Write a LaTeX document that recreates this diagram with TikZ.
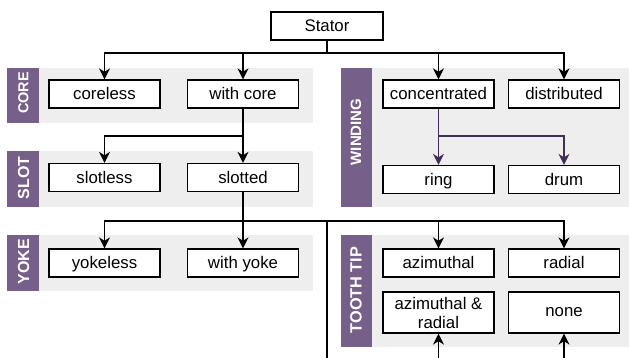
\documentclass[tikz,border=0pt]{standalone}
\usepackage{fontspec}
\setmainfont{Liberation Sans}
\usetikzlibrary{arrows.meta}
\definecolor{bandgray}{HTML}{EEEEEE}
\definecolor{stripviolet}{HTML}{76608A}
\definecolor{arrowviolet}{HTML}{432D57}
\begin{document}
\begin{tikzpicture}[x=1pt,y=-1pt,
  box/.style={draw=black,line width=1.3pt,fill=white,minimum width=111pt,minimum height=28pt,
    inner sep=0pt,align=center,text height=15pt,text depth=3.4pt,
    font=\fontsize{16.8}{19}\selectfont},
  tallbox/.style={box,minimum height=41pt,text height=,text depth=},
  band/.style={fill=bandgray,draw=none},
  strip/.style={fill=stripviolet,draw=none},
  striplabel/.style={text=white,rotate=90,inner sep=0pt},
  lsize/.style={font=\bfseries\fontsize{#1}{#1}\selectfont},
  link/.style={draw=black,line width=1.3pt},
  arr/.style={link,-{Stealth[length=11pt,width=11pt,inset=3.5pt]}},
  varr/.style={arr,draw=arrowviolet,-{Stealth[length=11pt,width=11pt,inset=3.5pt,fill=arrowviolet]}}]
\useasboundingbox (0,0) rectangle (629,358);

% category bands with vertical labels
\fill[band] (7,68) rectangle (313,123);
\fill[strip] (7,68) rectangle (39,123);
\node[striplabel,lsize=14.5] (lcore) at (23.5,93) {CORE};
\fill[band] (7,151) rectangle (313,207);
\fill[strip] (7,151) rectangle (39,207);
\node[striplabel,lsize=16] (lslot) at (23.5,178) {SLOT};
\fill[band] (7,235) rectangle (313,291);
\fill[strip] (7,235) rectangle (39,291);
\node[striplabel,lsize=16] (lyoke) at (23.5,261.5) {YOKE};
\fill[band] (341,68) rectangle (629,207);
\fill[strip] (341,68) rectangle (372,207);
\node[striplabel,lsize=15] (lwind) at (356,132) {WINDING};
\fill[band] (341,235) rectangle (629,347);
\fill[strip] (341,235) rectangle (372,347);
\node[striplabel,lsize=16.3] (ltooth) at (356,290) {TOOTH TIP};

% boxes
\node[box,minimum width=112pt] (stator) at (327,26) {Stator};
\node[box] (coreless) at (104.5,94) {coreless};
\node[box] (withcore) at (243,94) {with core};
\node[box] (slotless) at (104.5,177.5) {slotless};
\node[box] (slotted) at (243,177.5) {slotted};
\node[box] (yokeless) at (104.5,263) {yokeless};
\node[box] (withyoke) at (243,263) {with yoke};
\node[box] (conc) at (438.5,94) {concentrated};
\node[box] (distr) at (564,94) {distributed};
\node[box] (ring) at (438.5,179.5) {ring};
\node[box] (drum) at (564,179.5) {drum};
\node[box] (azim) at (438.5,263) {azimuthal};
\node[box] (radial) at (564,263) {radial};
\node[tallbox] (azrad) at (438.5,312.5) {azimuthal \&\\radial};
\node[tallbox] (none) at (564,312.5) {none};

% junction points
\coordinate (jstator) at (327,53);
\coordinate (jcore) at (243,136);
\coordinate (jslot) at (243,221);
\coordinate (jmid) at (327,221);
\coordinate (jwind) at (438.5,136);
\coordinate (bottommid) at (327,358);
\coordinate (bottomleft) at (438.5,358);
\coordinate (bottomright) at (564,358);

% connectors
\draw[link] (stator.south) -- (jstator);
\draw[arr] (jstator) -| (coreless.north);
\draw[arr] (jstator) -| (withcore.north);
\draw[arr] (jstator) -| (conc.north);
\draw[arr] (jstator) -| (distr.north);

\draw[link] (withcore.south) -- (jcore);
\draw[arr] (jcore) -| (slotless.north);
\draw[arr] (jcore) -- (slotted.north);

\draw[link] (slotted.south) -- (jslot);
\draw[arr] (jslot) -| (yokeless.north);
\draw[arr] (jslot) -- (withyoke.north);
\draw[arr] (jslot) -| (azim.north);
\draw[arr] (jslot) -| (radial.north);
\draw[link] (jmid) -- (bottommid);
\draw[arr] (bottomleft) -- (azrad.south);
\draw[arr] (bottomright) -- (none.south);

\draw[link,draw=arrowviolet] (conc.south) -- (jwind);
\draw[varr] (jwind) -- (ring.north);
\draw[varr] (jwind) -| (drum.north);
\end{tikzpicture}
\end{document}
